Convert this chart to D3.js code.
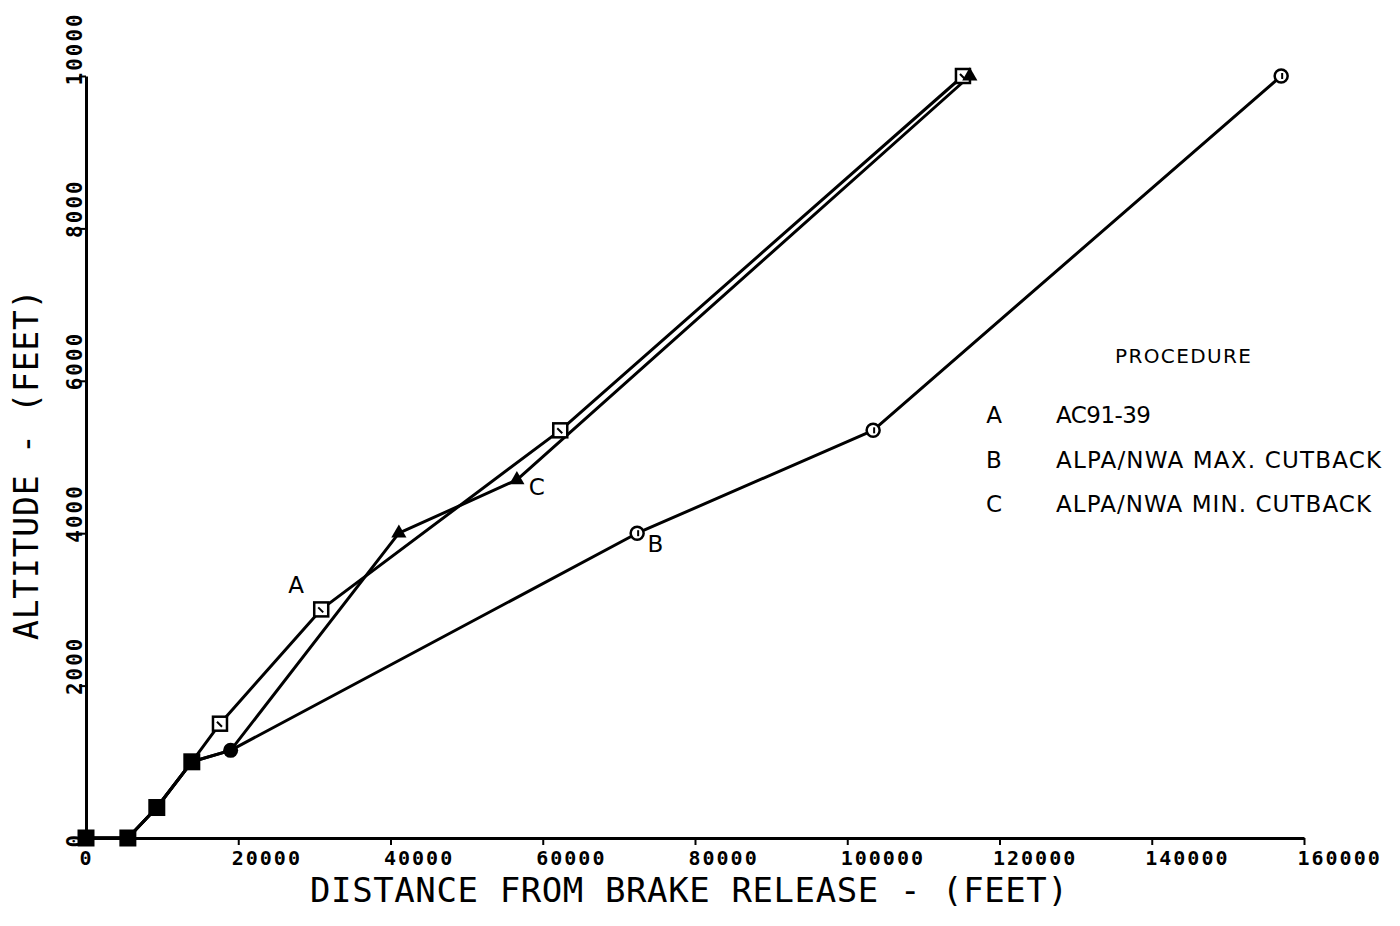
<!DOCTYPE html>
<html>
<head>
<meta charset="utf-8">
<script src="https://cdn.jsdelivr.net/npm/d3@7"></script>
<style>
  body { margin: 0; background: #fff; }
  svg { display: block; }
  .tick text { font-family: "DejaVu Sans Mono", monospace; font-weight: bold; fill: #000; }
  .legend text, .anno { font-family: "DejaVu Sans", sans-serif; font-size: 23px; fill: #000; }
</style>
</head>
<body>
<svg id="chart" width="1400" height="926"></svg>
<script>
// Chart values
const distA = [0, 5500, 9300, 13900, 17600, 30900, 62300, 115200];
const altA  = [0, 0, 400, 1000, 1500, 3000, 5350, 10000];
const distB = [0, 5500, 9300, 13900, 19000, 72400, 103400, 157000];
const altB  = [0, 0, 400, 1000, 1150, 4000, 5350, 10000];
const distC = [0, 5500, 9300, 13900, 19000, 41100, 56600, 116100];
const altC  = [0, 0, 400, 1000, 1150, 4000, 4700, 10000];

const xTicks = [0, 20000, 40000, 60000, 80000, 100000, 120000, 140000, 160000];
const yTicks = [0, 2000, 4000, 6000, 8000, 10000];

const legendKeys = ["A", "B", "C"];
const legendLabels = ["AC91-39", "ALPA/NWA MAX. CUTBACK", "ALPA/NWA MIN. CUTBACK"];
const legendTitle = "PROCEDURE";

// Labels next to the curves: [key, distance, altitude]
const curveLabels = [["A", 27600, 3220], ["B", 74800, 3750], ["C", 59200, 4500]];

const svg = d3.select("#chart");
const x = d3.scaleLinear().domain([0, 160000]).range([86, 1304]);
const y = d3.scaleLinear().domain([0, 10000]).range([838, 76]);

// Axes
const xAxis = svg.append("g")
    .attr("transform", `translate(0,${y(0)})`)
    .call(d3.axisBottom(x).tickValues(xTicks).tickSize(7).tickSizeOuter(0).tickFormat(d3.format("d")));
xAxis.select(".domain").attr("stroke-width", 3);
xAxis.selectAll(".tick line").attr("stroke-width", 2);
xAxis.selectAll(".tick text")
    .style("font-size", "20px")
    .style("letter-spacing", "2px")
    .attr("text-anchor", "start")
    .attr("x", -7)
    .attr("y", 27)
    .attr("dy", 0);

const yAxis = svg.append("g")
    .attr("transform", `translate(${x(0)},0)`)
    .call(d3.axisLeft(y).tickValues(yTicks).tickSize(7).tickSizeOuter(0).tickFormat(d3.format("d")));
yAxis.select(".domain").attr("stroke-width", 3);
yAxis.selectAll(".tick line").attr("stroke-width", 2);
yAxis.selectAll(".tick text")
    .style("font-size", "21px")
    .style("letter-spacing", "2px")
    .attr("text-anchor", "start")
    .attr("transform", "rotate(-90)")
    .attr("x", -9)
    .attr("y", -4)
    .attr("dy", 0);

// Axis titles
svg.append("text")
    .attr("x", 310).attr("y", 902)
    .style("font-family", "'DejaVu Sans Mono', monospace")
    .style("font-size", "34px")
    .style("letter-spacing", "0.6px")
    .text("DISTANCE FROM BRAKE RELEASE - (FEET)");

svg.append("text")
    .attr("transform", "translate(38,640) rotate(-90)")
    .style("font-family", "'DejaVu Sans Mono', monospace")
    .style("font-size", "33px")
    .style("letter-spacing", "0.8px")
    .text("ALTITUDE  -  (FEET)");

// Lines
const series = [
    { key: "A", dist: distA, alt: altA },
    { key: "B", dist: distB, alt: altB },
    { key: "C", dist: distC, alt: altC }
];
const line = d3.line().x(d => x(d[0])).y(d => y(d[1]));

svg.append("g").selectAll("path")
    .data(series)
    .join("path")
    .attr("d", s => line(s.dist.map((d, i) => [d, s.alt[i]])))
    .attr("fill", "none")
    .attr("stroke", "#000")
    .attr("stroke-width", 3)
    .attr("stroke-linejoin", "round");

// Markers: points shared by several procedures are drawn solid
const counts = new Map();
series.forEach(s => s.dist.forEach((d, i) => {
    const k = d + "," + s.alt[i];
    counts.set(k, (counts.get(k) || 0) + 1);
}));

const markers = svg.append("g");
const drawn = new Set();
series.forEach(s => s.dist.forEach((d, i) => {
    const k = d + "," + s.alt[i];
    const n = counts.get(k);
    const px = x(d), py = y(s.alt[i]);
    if (n === 3) {
        if (drawn.has(k)) return;
        drawn.add(k);
        markers.append("rect").attr("x", px - 8.5).attr("y", py - 8.5)
            .attr("width", 17).attr("height", 17).attr("fill", "#000");
    } else if (n === 2) {
        if (drawn.has(k)) return;
        drawn.add(k);
        markers.append("circle").attr("cx", px).attr("cy", py).attr("r", 7.5).attr("fill", "#000");
    } else if (s.key === "A") {
        markers.append("rect").attr("x", px - 7).attr("y", py - 7)
            .attr("width", 14).attr("height", 14)
            .attr("fill", "#fff").attr("stroke", "#000").attr("stroke-width", 2.5);
        markers.append("path").attr("d", `M${px - 3},${py - 2}L${px + 2},${py + 3}`)
            .attr("stroke", "#000").attr("stroke-width", 2);
    } else if (s.key === "B") {
        markers.append("circle").attr("cx", px).attr("cy", py).attr("r", 6.5)
            .attr("fill", "#fff").attr("stroke", "#000").attr("stroke-width", 2.5);
        markers.append("path").attr("d", `M${px + 1},${py - 3}L${px + 1},${py + 3}`)
            .attr("stroke", "#000").attr("stroke-width", 2);
    } else {
        markers.append("path")
            .attr("d", d3.symbol(d3.symbolTriangle, 100)())
            .attr("transform", `translate(${px},${py})`)
            .attr("fill", "#000");
    }
}));

// Curve labels
svg.append("g").selectAll("text")
    .data(curveLabels)
    .join("text")
    .attr("class", "anno")
    .attr("x", d => x(d[1]))
    .attr("y", d => y(d[2]))
    .attr("text-anchor", "middle")
    .text(d => d[0]);

// Legend
const labelWidths = [95, 325, 315];
const legend = svg.append("g").attr("class", "legend");
legend.append("text")
    .attr("x", 1115).attr("y", 363)
    .style("font-size", "20px")
    .attr("textLength", 136)
    .attr("lengthAdjust", "spacing")
    .text(legendTitle);
legendKeys.forEach((k, i) => {
    const ly = 423 + i * 44.5;
    legend.append("text").attr("x", 994).attr("y", ly).attr("text-anchor", "middle").text(k);
    legend.append("text").attr("x", 1056).attr("y", ly)
        .attr("textLength", labelWidths[i])
        .attr("lengthAdjust", "spacing")
        .text(legendLabels[i]);
});
</script>
</body>
</html>
